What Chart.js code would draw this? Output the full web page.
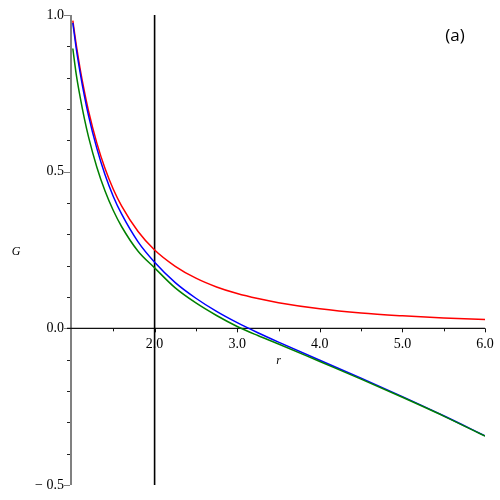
<!DOCTYPE html>
<html>
<head>
<meta charset="utf-8">
<script src="https://cdn.jsdelivr.net/npm/chart.js@4"></script>
<style>
  html, body { margin: 0; padding: 0; background: #fff; }
  #wrap { width: 500px; height: 500px; position: relative; }
</style>
</head>
<body>
<div id="wrap"><canvas id="gChart"></canvas></div>
<script>
// Data
const rValues = [1.01, 1.05, 1.1, 1.15, 1.2, 1.3, 1.4, 1.5, 1.6, 1.8, 2.0, 2.25, 2.5, 2.75, 3.0, 3.25, 3.5, 4.0, 4.5, 5.0, 5.5, 6.0];
const redG   = [0.982, 0.907, 0.826, 0.756, 0.694, 0.592, 0.510, 0.444, 0.391, 0.309, 0.250, 0.198, 0.160, 0.132, 0.111, 0.095, 0.082, 0.0625, 0.049, 0.040, 0.033, 0.028];
const blueG  = [0.975, 0.896, 0.814, 0.742, 0.679, 0.575, 0.490, 0.421, 0.365, 0.276, 0.211, 0.146, 0.096, 0.054, 0.018, -0.014, -0.044, -0.102, -0.159, -0.218, -0.279, -0.343];
const greenG = [0.893, 0.813, 0.736, 0.669, 0.611, 0.515, 0.438, 0.376, 0.325, 0.246, 0.193, 0.129, 0.081, 0.041, 0.006, -0.023, -0.050, -0.106, -0.162, -0.220, -0.280, -0.344];

const markerR = 2.0;
const xTickValues = [2, 3, 4, 5, 6];
const xTickLabels = ['2.0', '3.0', '4.0', '5.0', '6.0'];
const yTickValues = [1, 0.5, 0, -0.5];
const yTickLabels = ['1.0', '0.5', '0.0', '\u2212 0.5'];

const toPoints = (ys) => rValues.map((r, i) => ({ x: r, y: ys[i] }));

// Maple-style axes: y axis on the left, x axis through G = 0
const axesPlugin = {
  id: 'mapleAxes',
  beforeDatasetsDraw(chart) {
    const { ctx, scales: { x, y } } = chart;
    const x0 = x.getPixelForValue(1);
    const y0 = y.getPixelForValue(0);
    ctx.save();

    // y axis
    ctx.strokeStyle = '#808080';
    ctx.lineWidth = 2;
    ctx.beginPath();
    ctx.moveTo(x0 - 1, y.getPixelForValue(1));
    ctx.lineTo(x0 - 1, y.getPixelForValue(-0.5));
    ctx.stroke();

    ctx.lineWidth = 1;
    for (let k = -5; k <= 10; k++) {
      const py = Math.round(y.getPixelForValue(k / 10)) + 0.5;
      const len = k % 5 === 0 ? 6 : 3;
      ctx.strokeStyle = k % 5 === 0 ? '#808080' : '#222';
      ctx.beginPath();
      ctx.moveTo(x0 - 2 - len, py);
      ctx.lineTo(x0 - 2, py);
      ctx.stroke();
    }

    // x axis
    ctx.strokeStyle = '#111';
    ctx.lineWidth = 1.2;
    ctx.beginPath();
    ctx.moveTo(x0 - 5, y0);
    ctx.lineTo(x.getPixelForValue(6), y0);
    ctx.stroke();
    ctx.lineWidth = 1;
    for (let k = 3; k <= 12; k++) {
      const px = Math.round(x.getPixelForValue(k / 2)) + 0.5;
      const len = k % 2 === 0 ? 4 : 3;
      ctx.beginPath();
      ctx.moveTo(px, y0);
      ctx.lineTo(px, y0 + len);
      ctx.stroke();
    }

    // tick labels
    ctx.fillStyle = '#000';
    ctx.font = '14px "Liberation Serif", "DejaVu Serif", serif';
    ctx.textBaseline = 'middle';
    ctx.textAlign = 'right';
    yTickValues.forEach((v, i) => {
      ctx.fillText(yTickLabels[i], x0 - 8, y.getPixelForValue(v));
    });
    ctx.textAlign = 'center';
    xTickValues.forEach((v, i) => {
      ctx.fillText(xTickLabels[i], x.getPixelForValue(v), y0 + 16);
    });

    // axis titles
    ctx.font = 'italic 12px "Liberation Serif", "DejaVu Serif", serif';
    ctx.fillText('G', 16, y.getPixelForValue(0.245));
    ctx.fillText('r', x.getPixelForValue(3.5), y0 + 33);

    // panel label
    ctx.font = '17px "Open Sans", "Liberation Sans", sans-serif';
    ctx.fillText('(a)', 455, 36);
    ctx.restore();
  }
};

const ctx = document.getElementById('gChart').getContext('2d');
new Chart(ctx, {
  type: 'line',
  data: {
    datasets: [
      {
        label: 'r = 2',
        data: [{ x: markerR, y: -0.5 }, { x: markerR, y: 1.0 }],
        borderColor: '#000',
        borderWidth: 1.6,
        order: 4
      },
      { label: 'red', data: toPoints(redG), borderColor: '#ff0000', order: 3 },
      { label: 'blue', data: toPoints(blueG), borderColor: '#0000ff', order: 2 },
      { label: 'green', data: toPoints(greenG), borderColor: '#008000', order: 1 }
    ]
  },
  options: {
    responsive: true,
    maintainAspectRatio: false,
    animation: false,
    layout: { padding: { left: 72, right: 15, top: 15, bottom: 15 } },
    elements: {
      point: { radius: 0 },
      line: { borderWidth: 1.5, cubicInterpolationMode: 'monotone', fill: false }
    },
    plugins: { legend: { display: false }, tooltip: { enabled: false } },
    scales: {
      x: { type: 'linear', min: 1, max: 6, display: false },
      y: { type: 'linear', min: -0.5, max: 1.0, display: false }
    }
  },
  plugins: [axesPlugin]
});
</script>
</body>
</html>
